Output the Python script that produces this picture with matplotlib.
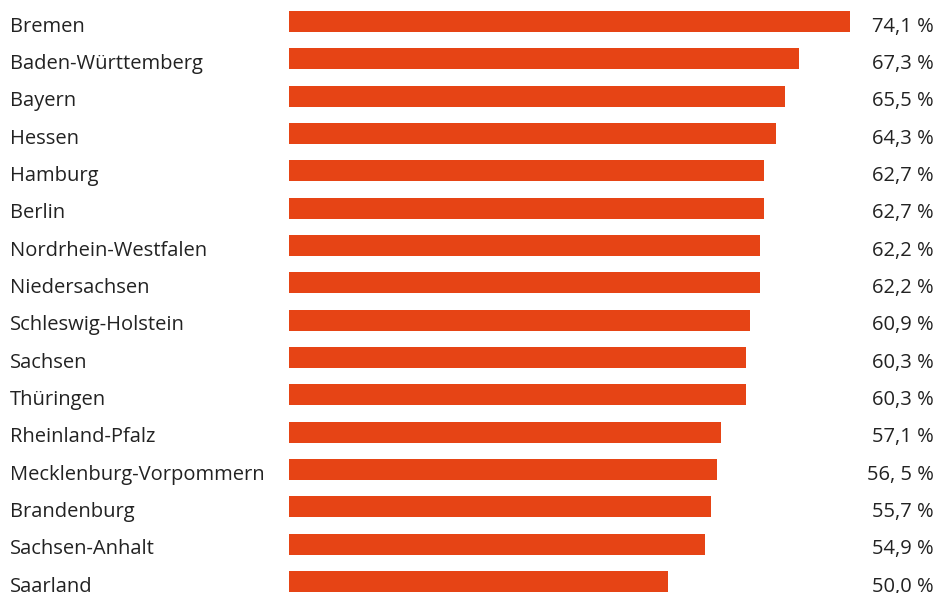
import matplotlib
matplotlib.use("Agg")
import matplotlib.pyplot as plt
import matplotlib.transforms as mtransforms

# Wahlbeteiligung nach Bundesland
laender = ["Bremen", "Baden-Württemberg", "Bayern", "Hessen", "Hamburg", "Berlin",
           "Nordrhein-Westfalen", "Niedersachsen", "Schleswig-Holstein", "Sachsen",
           "Thüringen", "Rheinland-Pfalz", "Mecklenburg-Vorpommern", "Brandenburg",
           "Sachsen-Anhalt", "Saarland"]
werte = [74.1, 67.3, 65.5, 64.3, 62.7, 62.7, 62.2, 62.2, 60.9, 60.3, 60.3,
         57.1, 56.5, 55.7, 54.9, 50.0]
wert_labels = ["74,1 %", "67,3 %", "65,5 %", "64,3 %", "62,7 %", "62,7 %", "62,2 %",
               "62,2 %", "60,9 %", "60,3 %", "60,3 %", "57,1 %", "56, 5 %", "55,7 %",
               "54,9 %", "50,0 %"]

W, H = 939, 593
fig = plt.figure(figsize=(W / 100, H / 100), dpi=100)
ax = fig.add_axes([289 / W, 0, (850 - 289) / W, 1])

pos = list(range(len(laender)))
ax.barh(pos, werte, height=0.5625, color="#E64415")
ax.set_xlim(0, 74.1)
ax.set_ylim(15.308, -0.576)
ax.axis("off")

trans = mtransforms.blended_transform_factory(fig.transFigure, ax.transData)
for i, (name, lab) in enumerate(zip(laender, wert_labels)):
    ax.text(10 / W, i + 0.27, name, transform=trans, ha="left", va="baseline",
            fontsize=14.5, color="#222222", family="Open Sans")
    ax.text(934 / W, i + 0.27, lab, transform=trans, ha="right", va="baseline",
            fontsize=14.5, color="#222222", family="Open Sans")

fig.savefig("out.png", dpi=100)
